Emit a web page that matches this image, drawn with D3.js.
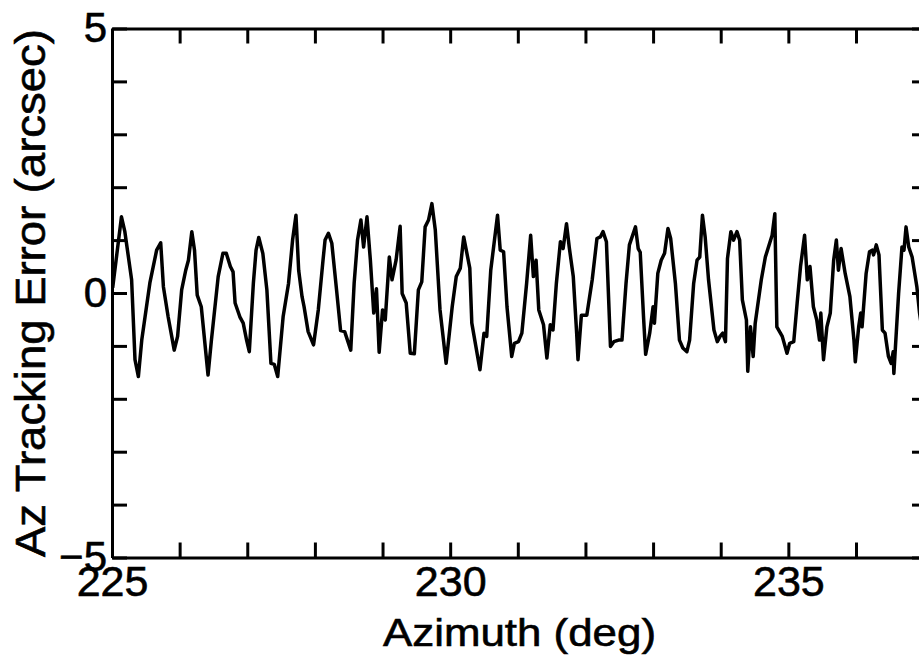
<!DOCTYPE html>
<html>
<head>
<meta charset="utf-8">
<script src="https://cdn.jsdelivr.net/npm/d3@7"></script>
<style>
    body { margin: 0; background: #fff; }
    svg { display: block; }
    .axis path, .axis line { stroke: #000; stroke-width: 3; }
    .axis text { fill: #000; stroke: #000; stroke-width: 0.6; }
    .title { fill: #000; stroke: #000; stroke-width: 0.6; }
</style>
</head>
<body>
<svg id="plotSVG" width="919" height="657"></svg>
<script>
// azimuth samples (deg)
const azimuth = [
    225.01, 225.14, 225.19, 225.29, 225.34, 225.39, 225.44, 225.56, 225.66, 225.72,
    225.76, 225.83, 225.92, 225.97, 226.03, 226.09, 226.13, 226.18, 226.22, 226.26,
    226.32, 226.42, 226.47, 226.57, 226.64, 226.69, 226.75, 226.79, 226.82, 226.89,
    226.94, 226.99, 227.03, 227.09, 227.13, 227.17, 227.23, 227.29, 227.35, 227.40,
    227.45, 227.53, 227.61, 227.67, 227.72, 227.76, 227.81, 227.84, 227.90, 227.98,
    228.05, 228.12, 228.15, 228.20, 228.25, 228.32, 228.38, 228.44, 228.53, 228.58,
    228.63, 228.68, 228.72, 228.77, 228.82, 228.87, 228.91, 228.95, 229.00, 229.04,
    229.10, 229.14, 229.20, 229.26, 229.29, 229.35, 229.41, 229.47, 229.53, 229.58,
    229.63, 229.68, 229.73, 229.78, 229.85, 229.94, 230.03, 230.09, 230.15, 230.20,
    230.29, 230.32, 230.44, 230.50, 230.54, 230.60, 230.70, 230.74, 230.79, 230.84,
    230.91, 230.95, 231.01, 231.06, 231.13, 231.19, 231.23, 231.27, 231.31, 231.38,
    231.43, 231.48, 231.52, 231.57, 231.63, 231.67, 231.72, 231.76, 231.82, 231.87,
    231.89, 231.94, 232.02, 232.10, 232.17, 232.22, 232.26, 232.31, 232.37, 232.42,
    232.49, 232.54, 232.60, 232.65, 232.74, 232.78, 232.81, 232.86, 232.89, 232.95,
    233.00, 233.02, 233.07, 233.12, 233.17, 233.22, 233.26, 233.33, 233.39, 233.44,
    233.50, 233.54, 233.60, 233.65, 233.69, 233.73, 233.77, 233.82, 233.90, 233.95,
    233.99, 234.03, 234.07, 234.10, 234.15, 234.19, 234.24, 234.28, 234.32, 234.38,
    234.40, 234.44, 234.48, 234.51, 234.60, 234.66, 234.76, 234.80, 234.83, 234.91,
    234.98, 235.02, 235.08, 235.13, 235.18, 235.24, 235.28, 235.32, 235.37, 235.42,
    235.46, 235.48, 235.52, 235.57, 235.62, 235.67, 235.71, 235.74, 235.78, 235.84,
    235.91, 235.97, 235.99, 236.04, 236.07, 236.09, 236.15, 236.20, 236.24, 236.26,
    236.30, 236.34, 236.39, 236.43, 236.48, 236.52, 236.55, 236.56, 236.63, 236.68,
    236.71, 236.74, 236.78, 236.83, 236.90, 236.94, 237.00
];

// az tracking error (arcsec)
const trackErr = [
    0.10, 1.44, 1.16, 0.25, -1.26, -1.58, -0.89, 0.19, 0.81, 0.95,
    0.12, -0.45, -1.08, -0.82, 0.06, 0.43, 0.62, 1.16, 0.81, -0.04,
    -0.26, -1.55, -0.89, 0.31, 0.75, 0.75, 0.50, 0.40, -0.19, -0.45,
    -0.57, -0.89, -1.11, 0.18, 0.81, 1.05, 0.75, 0.06, -1.33, -1.35,
    -1.58, -0.45, 0.18, 1.00, 1.47, 0.43, -0.07, -0.26, -0.73, -0.98,
    -0.32, 0.62, 1.00, 1.13, 0.94, 0.06, -0.71, -0.73, -1.08, 0.18,
    1.00, 1.38, 0.87, 1.44, 0.62, -0.38, 0.08, -1.12, -0.32, -0.51,
    0.68, 0.25, 0.62, 1.26, -0.01, -0.19, -1.14, -1.15, 0.06, 0.21,
    1.25, 1.38, 1.69, 1.19, -0.32, -1.33, -0.26, 0.31, 0.47, 1.06,
    0.47, -0.57, -1.45, -0.76, -0.82, 0.43, 1.47, 0.81, 0.78, -0.26,
    -1.20, -0.95, -0.92, -0.76, 0.18, 1.09, 0.31, 0.62, -0.32, -0.60,
    -1.23, -0.60, -0.70, 0.18, 0.97, 0.84, 1.31, 0.87, 0.31, -0.76,
    -1.26, -0.42, -0.42, 0.25, 1.03, 1.06, 1.16, 0.97, -1.01, -0.92,
    -0.89, -0.89, 0.18, 0.91, 1.25, 0.84, 0.77, -0.48, -1.16, -0.76,
    -0.26, -0.57, 0.37, 0.62, 0.75, 1.22, 1.03, 0.18, -0.89, -1.04,
    -1.11, -0.89, 0.18, 0.62, 0.68, 1.47, 1.06, 0.25, -0.70, -0.92,
    -0.82, -0.76, -0.92, 0.65, 1.16, 1.00, 1.16, 1.00, -0.13, -0.51,
    -1.48, -0.64, -1.20, -0.57, 0.25, 0.68, 1.09, 1.50, -0.64, -0.82,
    -1.14, -0.95, -0.92, -0.19, 0.50, 1.09, 0.25, 0.50, -0.26, -0.51,
    -0.89, -0.38, -1.26, -0.64, -0.38, 0.62, 1.00, 0.43, 0.84, 0.37,
    -0.07, -0.89, -1.30, -0.64, -0.38, -0.64, 0.37, 0.78, 0.81, 0.72,
    0.91, 0.72, -0.70, -0.76, -1.20, -1.33, -1.11, -1.52, -0.01, 0.87,
    0.81, 1.25, 0.87, 0.68, 0.12, -0.38, -0.90
];

// axis ranges, ticks and labels
const xDomain = [225, 237.05];
const yDomain = [-5, 5];
const xTicks = d3.range(225, 238, 1);
const yTicks = d3.range(-5, 6, 1);
const xTickLabels = [225, 230, 235];
const yTickLabels = [-5, 0, 5];
const xTitle = "Azimuth (deg)";
const yTitle = "Az Tracking Error (arcsec)";

// class for drawing the tracking error line plot
class Plot{
    constructor(svgElemIn, azIn, errIn){
        this.svgElem = svgElemIn;
        this.az = azIn;
        this.err = errIn;

        // plot box edges
        this.left = 112;
        this.right = 927;
        this.top = 28.5;
        this.bottom = 557.5;
        this.tickLen = 15;
        this.font = "'Liberation Sans', Arial, sans-serif";

        this.xScale = null;
        this.yScale = null;
    }

    drawPlot(){
        this._setScales();
        this._drawLine();
        this._drawAxises();
        this._drawTitles();
    }

    _setScales(){
        this.xScale = d3.scaleLinear()
            .domain(xDomain)
            .range([this.left, this.right]);

        this.yScale = d3.scaleLinear()
            .domain(yDomain)
            .range([this.bottom, this.top]);
    }

    _drawLine(){
        let svgPlot = d3.select(this.svgElem);

        svgPlot.append("clipPath")
            .attr("id", "plotClip")
            .append("rect")
            .attr("x", this.left)
            .attr("y", this.top)
            .attr("width", this.right - this.left)
            .attr("height", this.bottom - this.top);

        let line = d3.line()
            .x(d => this.xScale(d[0]))
            .y(d => this.yScale(d[1]));

        svgPlot.append("path")
            .datum(d3.zip(this.az, this.err))
            .attr("clip-path", "url(#plotClip)")
            .attr("fill", "none")
            .attr("stroke", "#000")
            .attr("stroke-width", 3.5)
            .attr("stroke-linejoin", "round")
            .attr("d", line);
    }

    // box with inward ticks on all four sides
    _drawAxises(){
        let svgPlot = d3.select(this.svgElem);
        let xFmt = d => xTickLabels.includes(d) ? d : "";
        let yFmt = d => yTickLabels.includes(d) ? d3.format("d")(d) : "";

        let xAxis = d3.axisBottom(this.xScale)
            .tickValues(xTicks)
            .tickSize(-this.tickLen)
            .tickSizeOuter(0)
            .tickPadding(8)
            .tickFormat(xFmt);

        svgPlot.append("g")
            .attr("class", "axis")
            .attr("transform", "translate(0," + this.bottom + ")")
            .call(xAxis)
            .attr("font-family", this.font)
            .attr("font-size", 43);

        svgPlot.append("g")
            .attr("class", "axis")
            .attr("transform", "translate(0," + this.top + ")")
            .call(d3.axisTop(this.xScale).tickValues(xTicks).tickSize(-this.tickLen).tickSizeOuter(0).tickFormat(""));

        let yAxis = d3.axisLeft(this.yScale)
            .tickValues(yTicks)
            .tickSize(-this.tickLen)
            .tickSizeOuter(0)
            .tickPadding(5)
            .tickFormat(yFmt);

        svgPlot.append("g")
            .attr("class", "axis")
            .attr("transform", "translate(" + this.left + ",0)")
            .call(yAxis)
            .attr("font-family", this.font)
            .attr("font-size", 42);

        svgPlot.append("g")
            .attr("class", "axis")
            .attr("transform", "translate(" + this.right + ",0)")
            .call(d3.axisRight(this.yScale).tickValues(yTicks).tickSize(-this.tickLen).tickSizeOuter(0).tickFormat(""));
    }

    _drawTitles(){
        let svgPlot = d3.select(this.svgElem);

        svgPlot.append("text")
            .attr("class", "title")
            .attr("x", (this.left + this.right) / 2)
            .attr("y", 646)
            .attr("text-anchor", "middle")
            .attr("textLength", 273)
            .attr("lengthAdjust", "spacingAndGlyphs")
            .style("font-family", this.font)
            .style("font-size", "39px")
            .text(xTitle);

        svgPlot.append("text")
            .attr("class", "title")
            .attr("transform", "translate(45," + ((this.top + this.bottom) / 2) + ") rotate(-90)")
            .attr("text-anchor", "middle")
            .attr("textLength", 528)
            .attr("lengthAdjust", "spacingAndGlyphs")
            .style("font-family", this.font)
            .style("font-size", "42px")
            .text(yTitle);
    }
}

let plot = new Plot(document.getElementById("plotSVG"), azimuth, trackErr);
plot.drawPlot();
</script>
</body>
</html>
